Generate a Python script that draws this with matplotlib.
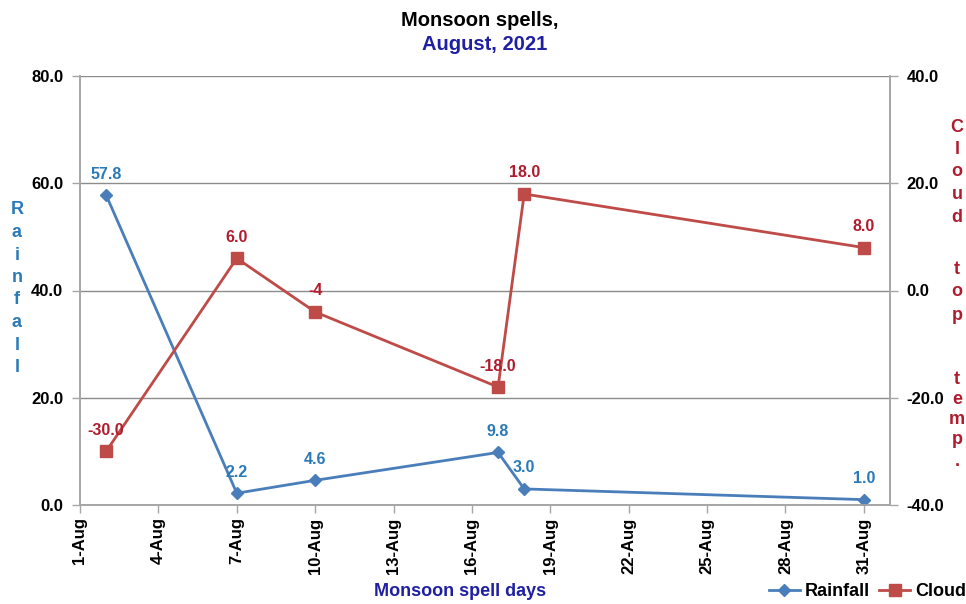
import matplotlib
matplotlib.use("Agg")
import matplotlib.pyplot as plt
import matplotlib.dates as mdates
from matplotlib.ticker import FuncFormatter, MultipleLocator
import numpy as np

# ---- data -------------------------------------------------------------
spell_days = np.array(['2021-08-02', '2021-08-07', '2021-08-10',
                       '2021-08-17', '2021-08-18', '2021-08-31'],
                      dtype='datetime64[D]')
rainfall = [57.8, 2.2, 4.6, 9.8, 3.0, 1.0]
cloud_top = [-30.0, 6.0, -4.0, -18.0, 18.0, 8.0]
rainfall_labels = ['57.8', '2.2', '4.6', '9.8', '3.0', '1.0']
cloud_labels = ['-30.0', '6.0', '-4', '-18.0', '18.0', '8.0']

# ---- style ------------------------------------------------------------
W, H = 966, 604
FONT = ['Liberation Sans', 'DejaVu Sans']
plt.rcParams['font.family'] = FONT
plt.rcParams['font.weight'] = 'bold'

RAIN_LINE = '#4a7ebb'
RAIN_TEXT = '#2a7ab8'
CLOUD_LINE = '#be4b48'
CLOUD_TEXT = '#b01c2e'
NAVY = '#1f1fa3'
GRID = '#8c8c8c'
SPINE = '#a6a6a6'

fig = plt.figure(figsize=(W / 100, H / 100), dpi=100)
fig.patch.set_facecolor('white')


def fx(px):
    return px / W


def fy(py):
    return 1 - py / H


ax = fig.add_axes([fx(80), fy(505), fx(890) - fx(80), fy(76) - fy(505)])
ax2 = ax.twinx()

# rainfall on primary axis
ax.plot(spell_days, rainfall, color=RAIN_LINE, lw=2.0, marker='D',
        markersize=6, markerfacecolor=RAIN_LINE, markeredgecolor=RAIN_LINE,
        label='Rainfall', zorder=3)
# cloud-top temperature on secondary axis
ax2.plot(spell_days, cloud_top, color=CLOUD_LINE, lw=2.0, marker='s',
         markersize=9, markerfacecolor=CLOUD_LINE, markeredgecolor=CLOUD_LINE,
         label='Cloud', zorder=3)

for d, v, t in zip(spell_days, rainfall, rainfall_labels):
    ax.annotate(t, (d, v), xytext=(0, 21), textcoords='offset pixels',
                ha='center', va='center', fontsize=11.5, fontweight='bold',
                color=RAIN_TEXT, zorder=5)
for d, v, t in zip(spell_days, cloud_top, cloud_labels):
    ax2.annotate(t, (d, v), xytext=(0, 21), textcoords='offset pixels',
                 ha='center', va='center', fontsize=11.5, fontweight='bold',
                 color=CLOUD_TEXT, zorder=5)

# axes ranges and ticks
ax.set_xlim(np.datetime64('2021-08-01'), np.datetime64('2021-09-01'))
ax.set_ylim(0, 80)
ax2.set_ylim(-40, 40)
ax.yaxis.set_major_locator(MultipleLocator(20))
ax2.yaxis.set_major_locator(MultipleLocator(20))
ax.yaxis.set_major_formatter(FuncFormatter(lambda v, p: f'{v:.1f}'))
ax2.yaxis.set_major_formatter(FuncFormatter(lambda v, p: f'{v:.1f}'))

tick_days = np.arange(np.datetime64('2021-08-01'), np.datetime64('2021-09-01'), 3)
ax.set_xticks(mdates.date2num(tick_days.astype('datetime64[D]')))
ax.xaxis.set_major_formatter(FuncFormatter(
    lambda v, p: f"{mdates.num2date(v).day}-{mdates.num2date(v):%b}"))

for a in (ax, ax2):
    a.tick_params(axis='both', which='major', length=6, width=1,
                  color=SPINE, labelsize=12, labelcolor='black')
    for lbl in a.get_yticklabels() + a.get_xticklabels():
        lbl.set_fontweight('bold')
ax.tick_params(axis='x', labelrotation=90, pad=3)
ax.tick_params(axis='y', pad=6)
ax2.tick_params(axis='y', pad=6)

ax.grid(axis='y', color=GRID, lw=1)
ax.set_axisbelow(True)
for a in (ax, ax2):
    a.spines['top'].set_visible(False)
    for s in ('left', 'right', 'bottom'):
        a.spines[s].set_color(SPINE)
        a.spines[s].set_linewidth(1.2)

# titles and axis labels
fig.text(fx(480), fy(20), 'Monsoon spells,', ha='center', va='center',
         fontsize=14.5, fontweight='bold', color='black')
fig.text(fx(485), fy(45), 'August, 2021', ha='center', va='center',
         fontsize=14.5, fontweight='bold', color=NAVY)
fig.text(fx(460), fy(592), 'Monsoon spell days', ha='center', va='center',
         fontsize=13, fontweight='bold', color=NAVY)

# stacked letters for the vertical axis titles
for i, ch in enumerate('Rainfall'):
    fig.text(fx(17), fy(210 + i * 22.5), ch, ha='center', va='center',
             fontsize=13, fontweight='bold', color=RAIN_TEXT)

cloud_rows = ['C', 'l', 'o', 'u', 'd', '', 't', 'o', 'p', '', 't', 'e', 'm', 'p', '.']
row_y = [128, 150, 172, 195, 217, None, 270, 292, 315, None, 380, 400, 420, 440, 462]
for ch, y in zip(cloud_rows, row_y):
    if ch:
        fig.text(fx(957), fy(y), ch, ha='center', va='center',
                 fontsize=13, fontweight='bold', color=CLOUD_TEXT)

# legend
h1, l1 = ax.get_legend_handles_labels()
h2, l2 = ax2.get_legend_handles_labels()
fig.legend(h1 + h2, l1 + l2, loc='center right',
           bbox_to_anchor=(1.008, fy(592)), ncol=2, frameon=False,
           handlelength=1.7, handletextpad=0.3,
           columnspacing=0.5, borderaxespad=0.0,
           prop={'weight': 'bold', 'size': 13})

fig.savefig('out.png', dpi=100, facecolor='white')
